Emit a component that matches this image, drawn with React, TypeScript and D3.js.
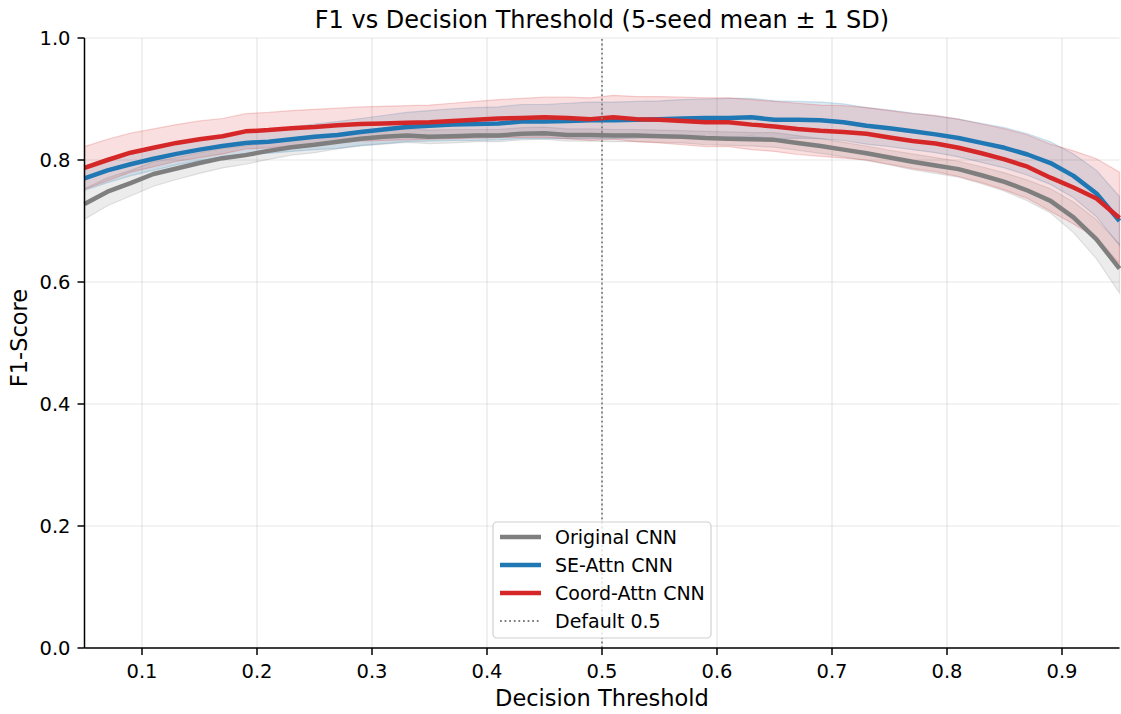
import React from 'react';
import * as d3 from 'd3';

// thresholds 0.05 .. 0.95, step 0.02
const thresholds = [
  0.05, 0.07, 0.09, 0.11, 0.13, 0.15, 0.17, 0.19, 0.21, 0.23, 0.25, 0.27, 0.29, 0.31, 0.33, 0.35,
  0.37, 0.39, 0.41, 0.43, 0.45, 0.47, 0.49, 0.51, 0.53, 0.55, 0.57, 0.59, 0.61, 0.63, 0.65, 0.67,
  0.69, 0.71, 0.73, 0.75, 0.77, 0.79, 0.81, 0.83, 0.85, 0.87, 0.89, 0.91, 0.93, 0.95,
];

const originalMean = [
  0.728, 0.748, 0.762, 0.777, 0.786, 0.795, 0.803, 0.808, 0.815, 0.821, 0.825, 0.83, 0.835, 0.838,
  0.84, 0.838, 0.839, 0.84, 0.84, 0.843, 0.844, 0.841, 0.841, 0.84, 0.84, 0.839, 0.838, 0.836,
  0.835, 0.834, 0.833, 0.828, 0.823, 0.817, 0.811, 0.804, 0.797, 0.791, 0.785, 0.775, 0.764, 0.75,
  0.733, 0.706, 0.67, 0.622,
];
const originalSd = [
  0.025, 0.023, 0.021, 0.02, 0.018, 0.017, 0.016, 0.015, 0.014, 0.013, 0.013, 0.012, 0.012, 0.012,
  0.011, 0.011, 0.011, 0.01, 0.01, 0.01, 0.01, 0.01, 0.01, 0.01, 0.01, 0.01, 0.01, 0.011, 0.011,
  0.011, 0.012, 0.012, 0.012, 0.012, 0.012, 0.012, 0.013, 0.013, 0.013, 0.014, 0.015, 0.017, 0.02,
  0.025, 0.032, 0.04,
];

const seMean = [
  0.77, 0.783, 0.793, 0.802, 0.81, 0.817, 0.823, 0.828, 0.83, 0.834, 0.838, 0.841, 0.846, 0.85,
  0.854, 0.856, 0.858, 0.859, 0.86, 0.863, 0.863, 0.864, 0.865, 0.865, 0.866, 0.867, 0.868, 0.869,
  0.869, 0.87, 0.866, 0.866, 0.865, 0.862, 0.856, 0.852, 0.847, 0.842, 0.836, 0.828, 0.82, 0.809,
  0.795, 0.774, 0.745, 0.7,
];
const seSd = [
  0.02, 0.02, 0.019, 0.019, 0.018, 0.018, 0.018, 0.018, 0.019, 0.02, 0.021, 0.022, 0.022, 0.023,
  0.024, 0.025, 0.026, 0.027, 0.027, 0.028, 0.028, 0.029, 0.03, 0.03, 0.03, 0.03, 0.031, 0.031,
  0.032, 0.031, 0.031, 0.03, 0.03, 0.03, 0.03, 0.03, 0.03, 0.03, 0.031, 0.032, 0.033, 0.034, 0.035,
  0.036, 0.038, 0.04,
];

const coordMean = [
  0.787, 0.8, 0.812, 0.82, 0.828, 0.834, 0.839, 0.847, 0.849, 0.852, 0.854, 0.857, 0.859, 0.86,
  0.861, 0.862, 0.864, 0.866, 0.868, 0.869, 0.87, 0.869, 0.867, 0.87, 0.867, 0.866, 0.864, 0.862,
  0.862, 0.858, 0.855, 0.851, 0.848, 0.846, 0.843, 0.837, 0.831, 0.827, 0.82, 0.811, 0.801, 0.789,
  0.771, 0.755, 0.737, 0.705,
];
const coordSd = [
  0.035, 0.034, 0.032, 0.031, 0.03, 0.03, 0.029, 0.029, 0.029, 0.029, 0.029, 0.028, 0.028, 0.028,
  0.028, 0.028, 0.029, 0.03, 0.031, 0.032, 0.033, 0.034, 0.035, 0.036, 0.037, 0.038, 0.039, 0.04,
  0.04, 0.041, 0.041, 0.042, 0.042, 0.043, 0.043, 0.044, 0.045, 0.046, 0.047, 0.048, 0.05, 0.052,
  0.055, 0.06, 0.065, 0.075,
];

const seriesNames = ['Original CNN', 'SE-Attn CNN', 'Coord-Attn CNN'];
const seriesColors = ['#7f7f7f', '#1f77b4', '#d62728'];
const xTicks = [0.1, 0.2, 0.3, 0.4, 0.5, 0.6, 0.7, 0.8, 0.9];
const yTicks = [0, 0.2, 0.4, 0.6, 0.8, 1.0];
const defaultThreshold = 0.5;

const W = 1121;
const H = 714;
const margin = { left: 84.5, right: 1.5, top: 38, bottom: 66 };
const font = 'DejaVu Sans, sans-serif';
const tickFont = 19.5;
const legendFont = 19;

export default function App() {
  const x = d3.scaleLinear().domain([0.05, 0.95]).range([margin.left, W - margin.right]);
  const y = d3.scaleLinear().domain([0, 1]).range([H - margin.bottom, margin.top]);

  const series = [
    { mean: originalMean, sd: originalSd },
    { mean: seMean, sd: seSd },
    { mean: coordMean, sd: coordSd },
  ];

  const line = (m: number[]) =>
    d3.line<number>().x((_, i) => x(thresholds[i])).y(d => y(d))(m) || '';
  const band = (m: number[], s: number[]) =>
    d3
      .area<number>()
      .x((_, i) => x(thresholds[i]))
      .y0((d, i) => y(d - s[i]))
      .y1((d, i) => y(d + s[i]))(m) || '';

  const x0 = margin.left;
  const x1 = W - margin.right;
  const y0 = H - margin.bottom;
  const y1 = margin.top;

  const legX = 493;
  const legY = 522;

  return (
    <svg width={W} height={H} style={{ position: 'absolute', left: 0, top: 0 }} fontFamily={font}>
      <rect width={W} height={H} fill="#fff" />
      {/* grid */}
      {xTicks.map(t => (
        <line key={'gx' + t} x1={x(t)} x2={x(t)} y1={y0} y2={y1} stroke="#b0b0b0" strokeOpacity={0.3} strokeWidth={1.2} />
      ))}
      {yTicks.map(t => (
        <line key={'gy' + t} x1={x0} x2={x1} y1={y(t)} y2={y(t)} stroke="#b0b0b0" strokeOpacity={0.3} strokeWidth={1.2} />
      ))}
      {/* bands */}
      {series.map((s, i) => (
        <path key={'b' + i} d={band(s.mean, s.sd)} fill={seriesColors[i]} fillOpacity={0.15} stroke={seriesColors[i]} strokeOpacity={0.2} strokeWidth={1.2} />
      ))}
      {/* lines */}
      {series.map((s, i) => (
        <path key={'l' + i} d={line(s.mean)} fill="none" stroke={seriesColors[i]} strokeWidth={4.5} strokeLinejoin="round" />
      ))}
      <line x1={x(defaultThreshold)} x2={x(defaultThreshold)} y1={y0} y2={y1} stroke="#7f7f7f" strokeWidth={1.8} strokeDasharray="1.8,2.8" />
      {/* spines */}
      <line x1={x0} x2={x0} y1={y0} y2={y1} stroke="#000" strokeWidth={1.5} />
      <line x1={x0} x2={x1} y1={y0} y2={y0} stroke="#000" strokeWidth={1.5} />
      {/* x ticks */}
      {xTicks.map(t => (
        <g key={'xt' + t}>
          <line x1={x(t)} x2={x(t)} y1={y0} y2={y0 + 7} stroke="#000" strokeWidth={1.5} />
          <text x={x(t)} y={y0 + 29.5} textAnchor="middle" fontSize={tickFont} fill="#000">
            {d3.format('.1f')(t)}
          </text>
        </g>
      ))}
      {/* y ticks */}
      {yTicks.map(t => (
        <g key={'yt' + t}>
          <line x1={x0 - 7} x2={x0} y1={y(t)} y2={y(t)} stroke="#000" strokeWidth={1.5} />
          <text x={x0 - 14} y={y(t) + 7} textAnchor="end" fontSize={tickFont} fill="#000">
            {d3.format('.1f')(t)}
          </text>
        </g>
      ))}
      <text x={(x0 + x1) / 2} y={28} textAnchor="middle" fontSize={24} fill="#000">
        F1 vs Decision Threshold (5-seed mean ± 1 SD)
      </text>
      <text x={(x0 + x1) / 2} y={706} textAnchor="middle" fontSize={22.5} fill="#000">
        Decision Threshold
      </text>
      <text transform={`translate(27,${(y0 + y1) / 2 - 5}) rotate(-90)`} textAnchor="middle" fontSize={22.5} fill="#000">
        F1-Score
      </text>
      {/* legend */}
      <rect x={legX} y={legY} width={218} height={116} rx={4} fill="#fff" fillOpacity={0.8} stroke="#d0d0d0" strokeWidth={1.2} />
      {seriesNames.map((n, i) => (
        <g key={'lg' + i}>
          <line x1={legX + 7} x2={legX + 48} y1={legY + 15 + i * 28} y2={legY + 15 + i * 28} stroke={seriesColors[i]} strokeWidth={4.5} />
          <text x={legX + 62} y={legY + 22 + i * 28} fontSize={legendFont} fill="#000">
            {n}
          </text>
        </g>
      ))}
      <line x1={legX + 7} x2={legX + 48} y1={legY + 99} y2={legY + 99} stroke="#7f7f7f" strokeWidth={1.8} strokeDasharray="1.8,2.8" />
      <text x={legX + 62} y={legY + 106} fontSize={legendFont} fill="#000">
        Default 0.5
      </text>
    </svg>
  );
}
